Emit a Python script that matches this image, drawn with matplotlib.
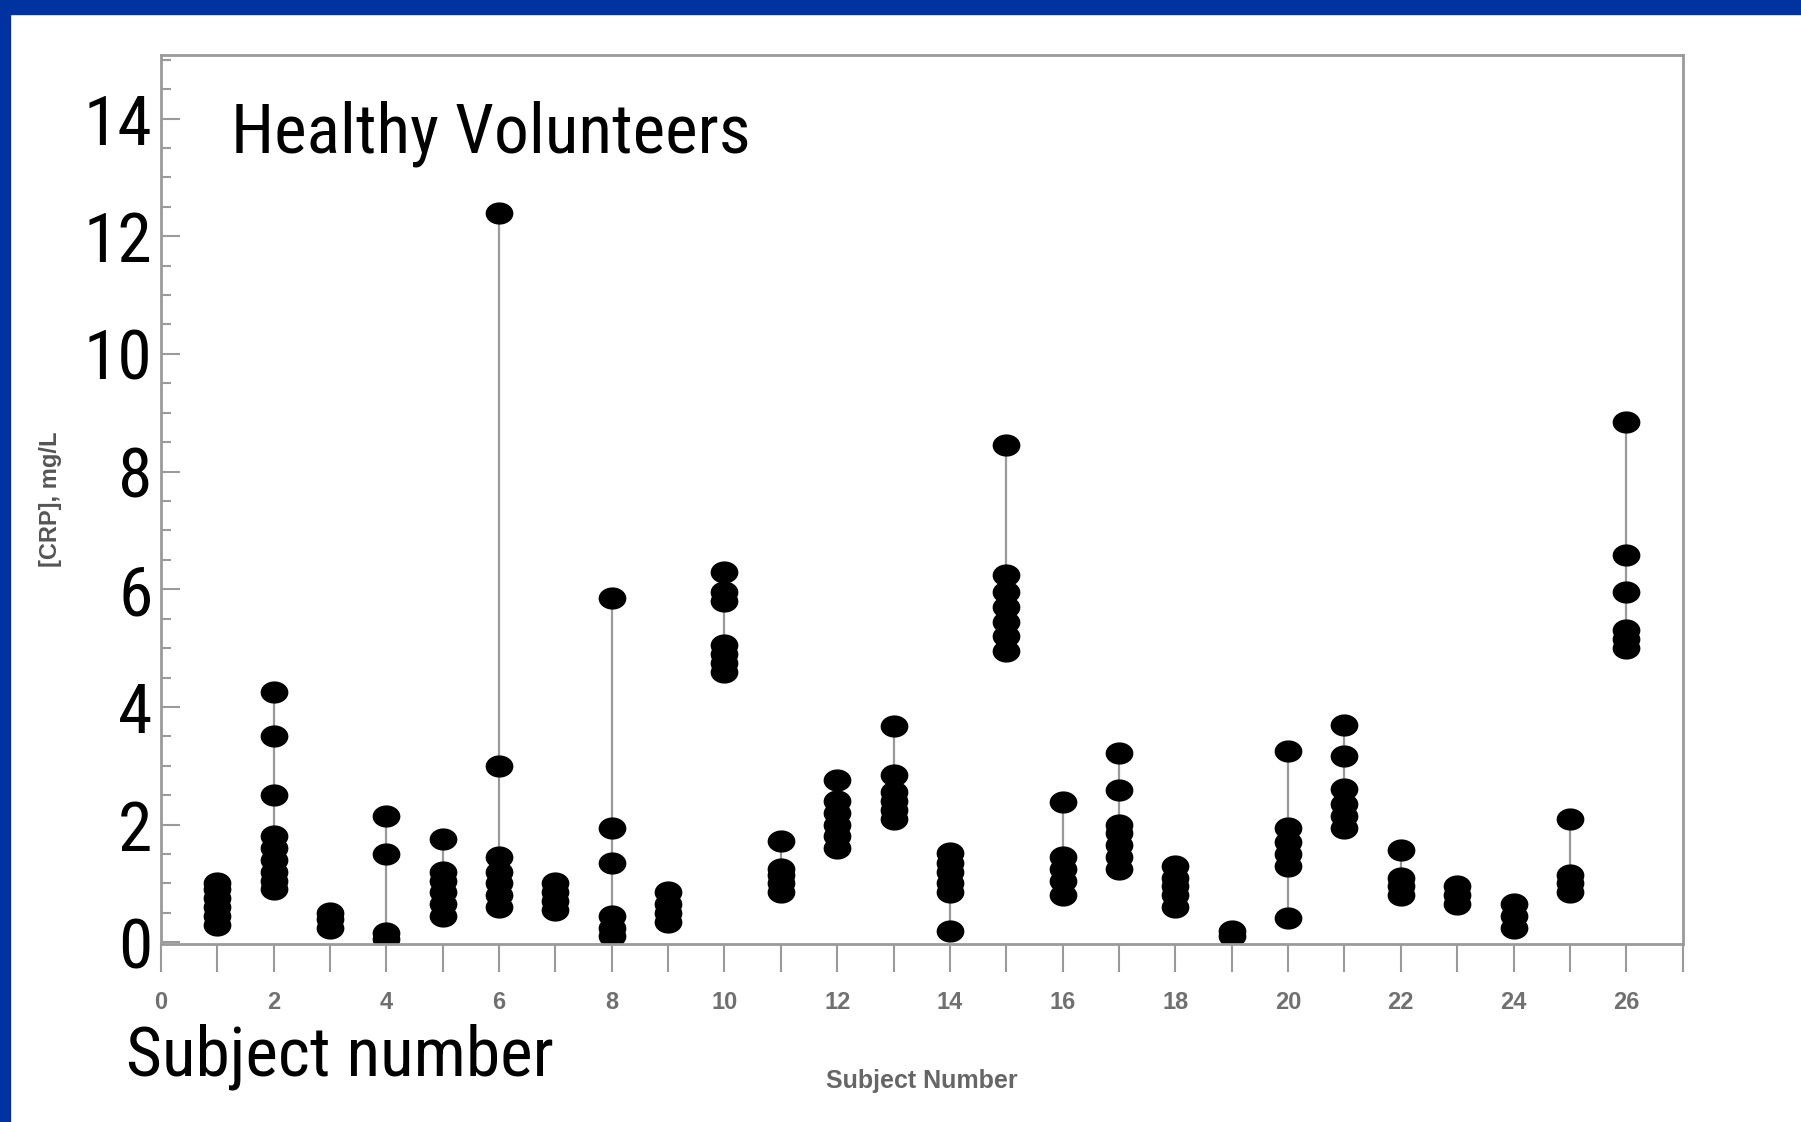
import numpy as np
from matplotlib import pyplot as plt
from matplotlib import font_manager
from matplotlib.patches import Rectangle
import matplotlib.ticker as ticker

# CRP readings (mg/L) for each healthy volunteer
s01 = [0.3, 0.45, 0.6, 0.75, 0.9, 1.0]
s02 = [0.9, 1.05, 1.2, 1.4, 1.6, 1.8, 2.5, 3.5, 4.25]
s03 = [0.25, 0.4, 0.5]
s04 = [0.05, 0.15, 1.5, 2.15]
s05 = [0.45, 0.65, 0.85, 1.05, 1.2, 1.75]
s06 = [0.6, 0.8, 1.0, 1.2, 1.45, 3.0, 12.4]
s07 = [0.55, 0.7, 0.85, 1.0]
s08 = [0.1, 0.25, 0.45, 1.35, 1.95, 5.85]
s09 = [0.35, 0.5, 0.65, 0.85]
s10 = [4.6, 4.75, 4.9, 5.05, 5.8, 5.95, 6.3]
s11 = [0.85, 1.0, 1.15, 1.25, 1.72]
s12 = [1.6, 1.8, 2.0, 2.2, 2.4, 2.75]
s13 = [2.1, 2.25, 2.4, 2.55, 2.85, 3.68]
s14 = [0.2, 0.85, 1.0, 1.2, 1.35, 1.52]
s15 = [4.95, 5.2, 5.45, 5.7, 5.95, 6.25, 8.45]
s16 = [0.8, 1.05, 1.25, 1.45, 2.38]
s17 = [1.25, 1.45, 1.65, 1.85, 2.0, 2.58, 3.22]
s18 = [0.6, 0.8, 0.95, 1.1, 1.3]
s19 = [0.1, 0.2]
s20 = [0.42, 1.3, 1.5, 1.7, 1.95, 3.25]
s21 = [1.95, 2.15, 2.35, 2.6, 3.16, 3.7]
s22 = [0.8, 0.95, 1.1, 1.57]
s23 = [0.65, 0.8, 0.95]
s24 = [0.25, 0.45, 0.65]
s25 = [0.85, 1.0, 1.15, 2.1]
s26 = [5.0, 5.15, 5.3, 5.95, 6.58, 8.85]

subjects = list(range(1, 27))
readings = [s01, s02, s03, s04, s05, s06, s07, s08, s09, s10, s11, s12, s13,
            s14, s15, s16, s17, s18, s19, s20, s21, s22, s23, s24, s25, s26]

y_ticks = [0, 2, 4, 6, 8, 10, 12, 14]
x_ticks = list(range(0, 27, 2))


def pick_font(names):
    # first installed family from the list, or None
    for name in names:
        try:
            font_manager.findfont(name, fallback_to_default=False)
            return name
        except ValueError:
            continue
    return None


narrow = pick_font(['Liberation Sans Narrow', 'Arial Narrow', 'Roboto Condensed',
                    'Open Sans Condensed', 'DejaVu Sans Condensed'])
if narrow:
    big_font = [narrow, 'Liberation Sans', 'DejaVu Sans']
    big_size = 50
else:
    # no condensed face: shrink a bit so the widths stay close
    big_font = ['Liberation Sans', 'DejaVu Sans']
    big_size = 44
small_font = ['Liberation Sans', 'DejaVu Sans']
spine_grey = '#9a9a9a'

fig = plt.figure(figsize=(18.01, 11.22), dpi=100)
ax = fig.add_axes([0.0893, 0.1586, 0.845, 0.7924])

# slightly flattened dot, like the scanned figure
t = np.linspace(0, 2 * np.pi, 40)
ellipse = list(zip(1.25 * np.cos(t), np.sin(t)))

for subj, vals in zip(subjects, readings):
    ax.vlines(subj, min(vals), max(vals), color=spine_grey, linewidth=1.6, zorder=1)
    ax.plot([subj] * len(vals), vals, linestyle='none', marker=ellipse,
            markersize=20, color='black', markeredgewidth=0, zorder=2)

ax.set_xlim(0, 27)
ax.set_ylim(-0.03, 15.08)

for side in ['left', 'right', 'top', 'bottom']:
    ax.spines[side].set_color(spine_grey)
    ax.spines[side].set_linewidth(2)

# y axis: big labels, inward ticks with half-unit minors
ax.set_yticks(y_ticks)
ax.yaxis.set_minor_locator(ticker.MultipleLocator(0.5))
ax.tick_params(axis='y', which='major', direction='in', length=14, width=1.5,
               color=spine_grey, pad=6, labelsize=big_size)
ax.tick_params(axis='y', which='minor', direction='in', length=7, width=1.5,
               color=spine_grey)
for lbl in ax.get_yticklabels():
    lbl.set_family(big_font)

# x axis: small grey labels, outward ticks on every subject
ax.set_xticks(x_ticks)
ax.xaxis.set_minor_locator(ticker.MultipleLocator(1))
ax.tick_params(axis='x', which='major', direction='out', length=20, width=1.5,
               color=spine_grey, pad=14, labelsize=17, labelcolor='#707070')
ax.tick_params(axis='x', which='minor', direction='out', length=20, width=1.5,
               color=spine_grey)
for lbl in ax.get_xticklabels():
    lbl.set_family(small_font)
    lbl.set_fontweight('bold')

ax.set_xlabel('Subject Number', fontsize=18, color='#666666', fontweight='bold',
              family=small_font)
ax.xaxis.set_label_coords(0.5, -0.14)
ax.set_ylabel('[CRP], mg/L', fontsize=17, color='#555555', fontweight='bold',
              family=small_font)
ax.yaxis.set_label_coords(-0.065, 0.5)

ax.text(0.046, 0.911, 'Healthy Volunteers', transform=ax.transAxes,
        fontsize=big_size, family=big_font, va='center', ha='left')
fig.text(0.07, 0.058, 'Subject number', fontsize=big_size, family=big_font,
         va='center', ha='left')

# dark blue slide border along the top and left edges
blue = '#0033a0'
fig.patches.append(Rectangle((0, 1 - 14 / 1122), 1, 14 / 1122,
                             transform=fig.transFigure, color=blue, zorder=10))
fig.patches.append(Rectangle((0, 0), 10 / 1801, 1,
                             transform=fig.transFigure, color=blue, zorder=10))

fig.savefig('out.png', dpi=100)
